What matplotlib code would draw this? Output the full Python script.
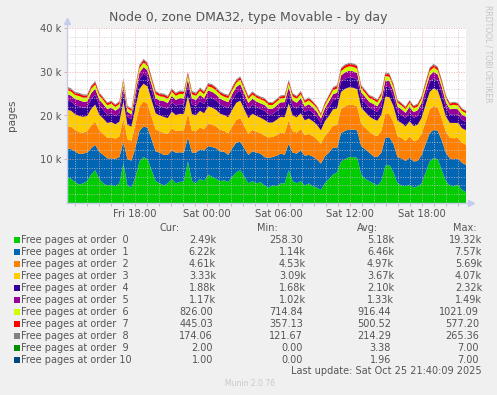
import numpy as np
import matplotlib
matplotlib.use("Agg")
import matplotlib.pyplot as plt
from matplotlib.patches import Rectangle

# hours since Fri 00:00, 100 samples (20 min) from 12:20 Fri to 21:40 Sat
t_start = 12 + 20 / 60
t_end = 45 + 40 / 60

order0 = [6.0, 5.5, 4.8, 4.2, 4.5, 5.0, 6.5, 7.5, 5.5, 4.5,
          4.0, 4.2, 3.8, 4.5, 9.0, 4.0, 3.5, 6.0, 9.5, 10.5,
          10.0, 7.5, 5.0, 4.5, 4.0, 4.5, 5.5, 4.5, 4.8, 5.0,
          9.5, 5.0, 4.5, 5.5, 5.0, 6.5, 6.0, 5.5, 5.0, 5.2,
          4.8, 6.0, 7.0, 7.5, 6.0, 4.5, 5.0, 4.5, 4.8, 4.0,
          3.5, 4.0, 3.8, 4.5, 4.5, 7.5, 5.0, 4.5, 5.0, 4.0,
          4.5, 3.8, 3.5, 3.0, 4.5, 5.5, 6.5, 7.0, 9.5, 10.0,
          10.5, 10.5, 10.3, 6.5, 5.5, 5.0, 4.5, 4.0, 5.0, 8.5,
          8.7, 7.0, 4.5, 4.0, 3.8, 4.2, 3.5, 3.8, 4.5, 7.0,
          9.5, 10.3, 10.0, 7.5, 5.0, 4.0, 3.8, 4.2, 3.0, 2.5]
order1 = [6.5, 6.8, 7.0, 7.0, 6.8, 6.5, 6.0, 5.8, 6.2, 6.5,
          6.2, 6.0, 6.3, 6.0, 5.0, 6.0, 6.2, 6.8, 7.0, 7.0,
          7.2, 7.0, 6.8, 7.0, 7.0, 6.5, 6.5, 7.0, 6.8, 6.5,
          5.5, 6.5, 7.0, 6.8, 7.0, 6.5, 6.8, 7.0, 6.8, 6.5,
          6.2, 6.5, 6.8, 6.5, 6.5, 6.5, 6.8, 7.0, 6.5, 6.5,
          6.8, 6.5, 7.0, 6.8, 6.5, 6.0, 6.5, 6.8, 7.0, 6.8,
          6.5, 6.8, 6.5, 6.0, 6.2, 6.0, 6.2, 5.5, 6.5, 6.5,
          6.3, 6.3, 6.3, 6.5, 6.8, 6.5, 6.2, 6.5, 6.5, 6.5,
          6.3, 6.5, 6.0, 6.2, 5.8, 6.2, 6.0, 5.8, 6.5, 6.5,
          6.5, 6.4, 6.5, 6.8, 6.5, 6.2, 6.2, 6.0, 6.2, 6.2]
order2 = [5.0, 5.1, 4.9, 5.0, 4.8, 4.9, 5.2, 5.3, 4.9, 4.8,
          4.7, 4.8, 4.6, 4.7, 5.4, 4.6, 4.55, 5.3, 5.6, 5.69,
          5.5, 5.2, 5.0, 4.9, 5.0, 4.8, 5.1, 4.9, 5.0, 5.1,
          5.5, 5.0, 4.9, 5.0, 4.8, 5.2, 5.1, 5.0, 4.9, 4.8,
          4.9, 5.0, 5.2, 5.4, 5.1, 4.8, 4.9, 4.8, 4.7, 4.9,
          4.7, 4.6, 4.7, 4.8, 4.9, 5.4, 4.9, 4.8, 4.9, 4.7,
          4.8, 4.7, 4.6, 4.53, 4.7, 4.9, 5.0, 5.3, 5.5, 5.6,
          5.65, 5.6, 5.5, 5.1, 4.9, 4.8, 4.9, 4.8, 5.0, 5.4,
          5.3, 5.0, 4.8, 4.7, 4.6, 4.8, 4.7, 4.8, 4.9, 5.2,
          5.4, 5.5, 5.3, 5.0, 4.8, 4.7, 4.8, 4.7, 4.6, 4.61]
order3 = [3.8, 3.7, 3.6, 3.7, 3.6, 3.5, 3.8, 3.9, 3.6, 3.5,
          3.4, 3.5, 3.3, 3.4, 3.9, 3.3, 3.2, 3.8, 4.0, 4.07,
          3.9, 3.8, 3.7, 3.6, 3.7, 3.6, 3.8, 3.7, 3.8, 3.7,
          4.0, 3.8, 3.7, 3.8, 3.7, 3.9, 3.9, 3.8, 3.7, 3.6,
          3.7, 3.8, 3.9, 4.0, 3.8, 3.6, 3.7, 3.6, 3.5, 3.6,
          3.4, 3.3, 3.5, 3.6, 3.7, 3.9, 3.6, 3.5, 3.6, 3.4,
          3.5, 3.4, 3.3, 3.09, 3.3, 3.5, 3.7, 3.8, 3.9, 4.0,
          4.0, 3.95, 3.9, 3.7, 3.6, 3.5, 3.6, 3.5, 3.7, 3.9,
          3.9, 3.7, 3.5, 3.4, 3.3, 3.5, 3.4, 3.5, 3.6, 3.8,
          4.0, 4.0, 3.9, 3.7, 3.5, 3.4, 3.5, 3.4, 3.3, 3.33]
order4 = [2.2, 2.1, 2.1, 2.2, 2.1, 2.0, 2.2, 2.2, 2.1, 2.0,
          1.9, 2.0, 1.9, 1.9, 2.2, 1.8, 1.7, 2.1, 2.3, 2.32,
          2.25, 2.2, 2.1, 2.1, 2.2, 2.1, 2.2, 2.1, 2.2, 2.2,
          2.3, 2.2, 2.1, 2.2, 2.1, 2.2, 2.2, 2.1, 2.1, 2.0,
          2.1, 2.2, 2.2, 2.3, 2.2, 2.1, 2.1, 2.0, 2.0, 2.1,
          1.9, 1.9, 2.0, 2.0, 2.1, 2.2, 2.1, 2.0, 2.1, 1.9,
          2.0, 1.9, 1.8, 1.68, 1.8, 2.0, 2.1, 2.2, 2.3, 2.3,
          2.3, 2.3, 2.25, 2.1, 2.1, 2.0, 2.1, 2.0, 2.1, 2.3,
          2.25, 2.1, 2.0, 1.9, 1.9, 2.0, 1.9, 2.0, 2.1, 2.2,
          2.3, 2.3, 2.2, 2.1, 2.0, 1.9, 2.0, 1.9, 1.9, 1.88]
order5 = [1.40, 1.35, 1.35, 1.40, 1.35, 1.30, 1.40, 1.42, 1.35, 1.30,
          1.25, 1.30, 1.20, 1.25, 1.40, 1.15, 1.10, 1.35, 1.45, 1.49,
          1.45, 1.40, 1.35, 1.35, 1.40, 1.35, 1.40, 1.35, 1.40, 1.40,
          1.45, 1.40, 1.35, 1.40, 1.35, 1.40, 1.42, 1.38, 1.35, 1.30,
          1.35, 1.40, 1.42, 1.45, 1.40, 1.35, 1.35, 1.30, 1.28, 1.32,
          1.25, 1.22, 1.28, 1.30, 1.35, 1.42, 1.35, 1.30, 1.35, 1.25,
          1.28, 1.22, 1.15, 1.02, 1.15, 1.28, 1.35, 1.40, 1.45, 1.47,
          1.48, 1.47, 1.45, 1.38, 1.35, 1.30, 1.35, 1.30, 1.35, 1.45,
          1.42, 1.35, 1.28, 1.22, 1.20, 1.28, 1.25, 1.28, 1.32, 1.42,
          1.46, 1.47, 1.44, 1.38, 1.30, 1.22, 1.28, 1.22, 1.20, 1.17]
order6 = [0.95, 0.93, 0.92, 0.95, 0.93, 0.90, 0.96, 0.97, 0.92, 0.90,
          0.88, 0.90, 0.85, 0.87, 0.95, 0.82, 0.78, 0.93, 1.00, 1.02,
          1.00, 0.97, 0.94, 0.94, 0.96, 0.93, 0.96, 0.94, 0.96, 0.96,
          0.99, 0.96, 0.93, 0.95, 0.93, 0.96, 0.97, 0.95, 0.93, 0.90,
          0.93, 0.95, 0.97, 0.99, 0.96, 0.93, 0.93, 0.90, 0.89, 0.91,
          0.87, 0.85, 0.88, 0.90, 0.92, 0.97, 0.93, 0.90, 0.93, 0.87,
          0.88, 0.85, 0.80, 0.71, 0.80, 0.88, 0.93, 0.96, 0.99, 1.00,
          1.01, 1.00, 0.99, 0.95, 0.93, 0.90, 0.93, 0.90, 0.93, 0.99,
          0.98, 0.93, 0.88, 0.85, 0.84, 0.88, 0.86, 0.88, 0.91, 0.97,
          1.00, 1.01, 0.99, 0.95, 0.90, 0.85, 0.88, 0.85, 0.84, 0.83]
order7 = [0.52, 0.51, 0.50, 0.52, 0.51, 0.49, 0.53, 0.54, 0.50, 0.49,
          0.47, 0.49, 0.45, 0.47, 0.52, 0.43, 0.40, 0.51, 0.56, 0.577,
          0.55, 0.53, 0.51, 0.51, 0.52, 0.51, 0.53, 0.51, 0.52, 0.52,
          0.55, 0.52, 0.51, 0.52, 0.51, 0.52, 0.53, 0.52, 0.51, 0.49,
          0.51, 0.52, 0.53, 0.55, 0.52, 0.51, 0.51, 0.49, 0.48, 0.50,
          0.47, 0.46, 0.48, 0.49, 0.50, 0.53, 0.51, 0.49, 0.51, 0.47,
          0.48, 0.46, 0.42, 0.36, 0.42, 0.48, 0.51, 0.53, 0.55, 0.56,
          0.57, 0.56, 0.55, 0.52, 0.51, 0.49, 0.51, 0.49, 0.51, 0.55,
          0.54, 0.51, 0.48, 0.46, 0.45, 0.48, 0.47, 0.48, 0.50, 0.54,
          0.56, 0.57, 0.55, 0.52, 0.49, 0.46, 0.48, 0.46, 0.45, 0.445]
order8 = [0.23, 0.22, 0.21, 0.23, 0.22, 0.20, 0.24, 0.25, 0.21, 0.20,
          0.19, 0.20, 0.17, 0.19, 0.23, 0.16, 0.14, 0.22, 0.26, 0.265,
          0.25, 0.23, 0.22, 0.22, 0.23, 0.22, 0.24, 0.22, 0.23, 0.23,
          0.25, 0.23, 0.22, 0.23, 0.22, 0.23, 0.24, 0.23, 0.22, 0.20,
          0.22, 0.23, 0.24, 0.25, 0.23, 0.22, 0.22, 0.20, 0.19, 0.21,
          0.18, 0.17, 0.19, 0.20, 0.21, 0.24, 0.22, 0.20, 0.22, 0.18,
          0.19, 0.17, 0.15, 0.12, 0.15, 0.19, 0.22, 0.24, 0.25, 0.26,
          0.26, 0.26, 0.25, 0.23, 0.22, 0.20, 0.22, 0.20, 0.22, 0.25,
          0.24, 0.22, 0.19, 0.17, 0.16, 0.19, 0.18, 0.19, 0.21, 0.24,
          0.26, 0.26, 0.25, 0.23, 0.20, 0.17, 0.19, 0.17, 0.17, 0.174]
# orders 9 and 10 are plain page counts
order9 = [4, 3, 3, 4, 5, 4, 3, 2, 3, 4, 5, 6, 5, 4, 3, 2, 3, 4, 5, 7,
          6, 4, 3, 3, 4, 3, 2, 3, 4, 3, 2, 3, 4, 4, 3, 2, 3, 4, 5, 4,
          3, 3, 2, 2, 3, 4, 4, 3, 2, 3, 4, 5, 4, 3, 2, 1, 2, 3, 4, 5,
          6, 5, 4, 3, 2, 0, 1, 2, 3, 3, 2, 2, 3, 4, 4, 3, 2, 3, 4, 5,
          4, 3, 2, 3, 4, 4, 3, 2, 3, 4, 3, 2, 2, 3, 3, 4, 3, 2, 2, 2]
order10 = [2, 2, 1, 2, 3, 2, 1, 1, 2, 2, 3, 4, 3, 2, 2, 1, 2, 2, 3, 7,
           5, 3, 2, 2, 2, 1, 1, 2, 2, 2, 1, 2, 2, 3, 2, 1, 2, 2, 3, 2,
           2, 2, 1, 1, 2, 3, 2, 2, 1, 2, 2, 3, 2, 2, 1, 0, 1, 2, 2, 3,
           4, 3, 2, 2, 1, 0, 0, 1, 2, 2, 1, 1, 2, 2, 3, 2, 1, 2, 2, 3,
           2, 2, 1, 2, 2, 3, 2, 1, 2, 2, 2, 1, 1, 2, 2, 2, 2, 1, 1, 1]

colors = ['#00CC00', '#0066B3', '#FF8000', '#FFCC00', '#330099', '#990099',
          '#CCFF00', '#FF0000', '#808080', '#008F00', '#00487D']

cur = ['2.49k', '6.22k', '4.61k', '3.33k', '1.88k', '1.17k', '826.00', '445.03', '174.06', '2.00', '1.00']
mins = ['258.30', '1.14k', '4.53k', '3.09k', '1.68k', '1.02k', '714.84', '357.13', '121.67', '0.00', '0.00']
avgs = ['5.18k', '6.46k', '4.97k', '3.67k', '2.10k', '1.33k', '916.44', '500.52', '214.29', '3.38', '1.96']
maxs = ['19.32k', '7.57k', '5.69k', '4.07k', '2.32k', '1.49k', '1021.09', '577.20', '265.36', '7.00', '7.00']

tick_hours = [18, 24, 30, 36, 42]
tick_labels = ['Fri 18:00', 'Sat 00:00', 'Sat 06:00', 'Sat 12:00', 'Sat 18:00']

series = [np.array(order0) * 1000, np.array(order1) * 1000, np.array(order2) * 1000,
          np.array(order3) * 1000, np.array(order4) * 1000, np.array(order5) * 1000,
          np.array(order6) * 1000, np.array(order7) * 1000, np.array(order8) * 1000,
          np.array(order9, float), np.array(order10, float)]
hours = np.linspace(t_start, t_end, len(order0))

W, H = 497, 395
txt = '#555555'


def fx(x):
    return x / W


def fy(y):
    return 1 - y / H


fig = plt.figure(figsize=(W / 100, H / 100), dpi=100)
fig.patch.set_facecolor('#F0F0F0')
ax = fig.add_axes([fx(67), fy(203), (466 - 67) / W, 175 / H])
ax.set_facecolor('white')

ax.stackplot(hours, *series, colors=colors, linewidth=0, zorder=2)
ax.set_xlim(t_start, t_end)
ax.set_ylim(0, 40000)

# grid, drawn over the data like rrdtool does
for h in np.arange(13, 46):
    major = (h % 3 == 0)
    ax.axvline(h, color='#e8a0a0' if major else '#c8c8c8', lw=0.7,
               ls=(0, (1, 1.5)), alpha=0.8, zorder=3)
for v in range(2000, 40001, 2000):
    major = (v % 10000 == 0)
    ax.axhline(v, color='#e8a0a0' if major else '#c8c8c8', lw=0.7,
               ls=(0, (1, 1.5)), alpha=0.8, zorder=3)

for s in ax.spines.values():
    s.set_visible(False)
axcol = '#c8ccec'
ax.plot([t_start, t_start], [0, 41500], color=axcol, lw=1, clip_on=False, zorder=4)
ax.plot([t_start, t_end + 0.35], [0, 0], color=axcol, lw=1, clip_on=False, zorder=4)
ax.plot([t_start], [41700], marker='^', color=axcol, ms=4, clip_on=False, zorder=4)
ax.plot([t_end + 0.4], [0], marker='>', color=axcol, ms=4, clip_on=False, zorder=4)

ax.set_yticks([10000, 20000, 30000, 40000])
ax.set_yticklabels(['10 k', '20 k', '30 k', '40 k'])
ax.set_xticks(tick_hours)
ax.set_xticklabels(tick_labels)
ax.set_xticks(np.arange(13, 46), minor=True)
ax.tick_params(axis='both', which='both', labelsize=7.2, colors='#b0b0b0',
               labelcolor=txt, length=2, width=0.6, pad=2)
ax.tick_params(axis='x', which='major', colors='#e0a0a0', labelcolor=txt)
ax.tick_params(axis='y', which='major', colors='#e0a0a0', labelcolor=txt)

fig.text(0.5, fy(17), 'Node 0, zone DMA32, type Movable - by day', ha='center',
         va='center', fontsize=9, color=txt)
fig.text(fx(12), fy(115), 'pages', rotation=90, ha='center', va='center',
         fontsize=7.5, color=txt)
fig.text(fx(488), fy(5), 'RRDTOOL / TOBI OETIKER', rotation=270, ha='center',
         va='top', fontsize=5.5, color='#c4c4c4')

# legend table
fs = 7
fig.text(fx(180), fy(228), 'Cur:', ha='right', va='center', fontsize=fs, color=txt)
fig.text(fx(278), fy(228), 'Min:', ha='right', va='center', fontsize=fs, color=txt)
fig.text(fx(378), fy(228), 'Avg:', ha='right', va='center', fontsize=fs, color=txt)
fig.text(fx(477), fy(228), 'Max:', ha='right', va='center', fontsize=fs, color=txt)
col_right = [216, 306, 394, 482]
for i in range(11):
    y = 240 + 12 * i
    fig.patches.append(Rectangle((fx(14), fy(y + 3)), 6 / W, 6 / H, transform=fig.transFigure,
                                 facecolor=colors[i], edgecolor='none'))
    fig.text(fx(21), fy(y), 'Free pages at order %2d' % i, ha='left', va='center',
             fontsize=fs, color=txt)
    for col, vals in zip(col_right, [cur, mins, avgs, maxs]):
        s = vals[i]
        xr = col if s.endswith('k') else col - 3
        fig.text(fx(xr), fy(y), s, ha='right', va='center', fontsize=fs, color=txt)

fig.text(fx(482), fy(371), 'Last update: Sat Oct 25 21:40:09 2025', ha='right',
         va='center', fontsize=fs, color=txt)
fig.text(fx(250), fy(384), 'Munin 2.0.76', ha='center', va='center', fontsize=5.5,
         color='#c8c8c8')

fig.savefig('out.png', dpi=100, facecolor=fig.get_facecolor())
